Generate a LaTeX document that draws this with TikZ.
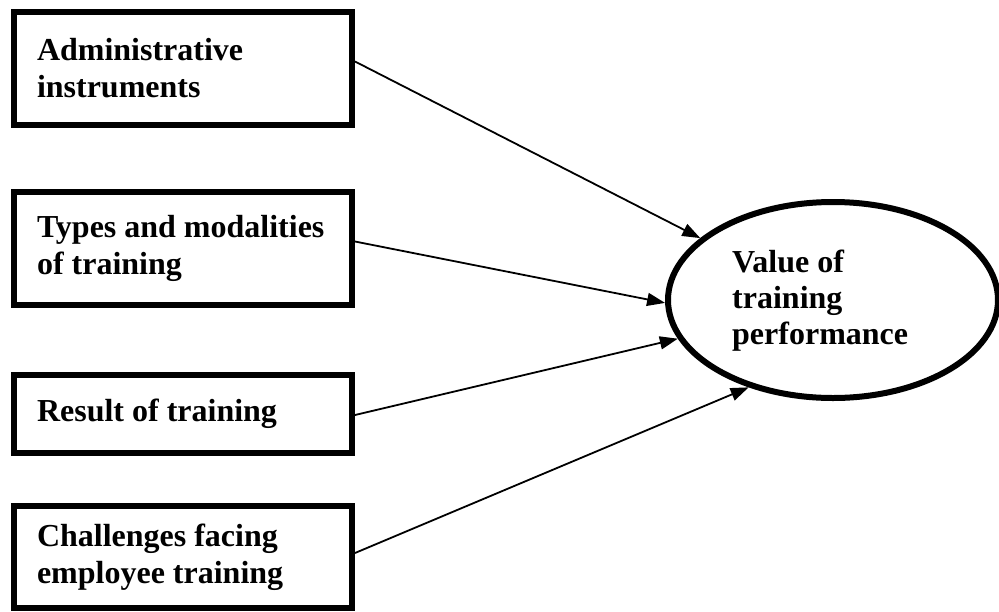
\documentclass[tikz,border=0pt]{standalone}
\usepackage{fontspec}
\setmainfont{Liberation Serif}
\usetikzlibrary{shapes.geometric,arrows.meta,calc}
\tikzset{
  factor/.style={draw, line width=6pt, rectangle, minimum width=338pt, inner xsep=23pt, inner ysep=0pt,
    text width=292pt, align=flush left, font=\fontsize{32pt}{37pt}\selectfont\bfseries},
  goal/.style={draw, line width=6pt, ellipse, minimum width=330pt, minimum height=196pt, inner sep=0pt},
  goaltext/.style={align=flush left, inner sep=0pt, font=\fontsize{32pt}{36pt}\selectfont\bfseries},
  link/.style={line width=1.8pt, -{Triangle[length=18pt,width=13pt]}}
}
\begin{document}
\begin{tikzpicture}[x=1pt,y=-1pt]
\useasboundingbox (0,0) rectangle (999,611);
\node[factor, minimum height=113pt] (b1) at (183,68.5) {Administrative\\instruments};
\node[factor, minimum height=113pt] (b2) at (183,248.5) {Types and modalities\\of training};
\node[factor, minimum height=78pt] (b3) at (183,414) {Result of training};
\node[factor, minimum height=102pt] (b4) at (183,557) {Challenges facing\\employee training};
\node[goal] (v) at (833,300) {};
\node[goaltext, anchor=west] (vt) at (732,301) {Value of\\training\\performance};
\draw[link] ($(b1.east)+(0,-7)$) -- (v.155.5);
\draw[link] ($(b2.east)+(0,-7)$) -- (v.181);
\draw[link] ($(b3.east)+(0,1)$) -- (v.194);
\draw[link] ($(b4.east)+(0,-4)$) -- (v.226);
\end{tikzpicture}
\end{document}
